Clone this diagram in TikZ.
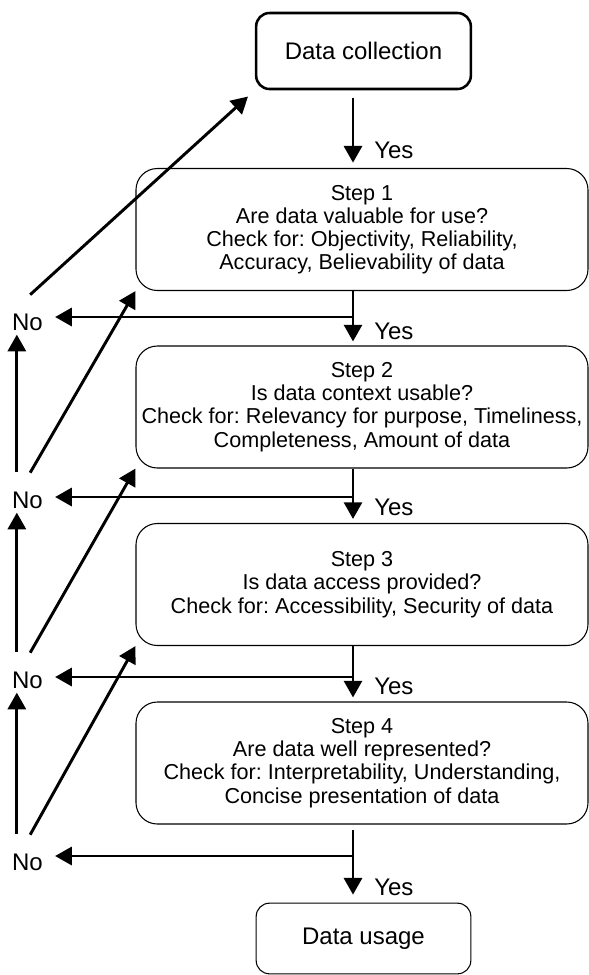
\documentclass[tikz,border=0pt]{standalone}
\usepackage{fontspec}
\setmainfont{Liberation Sans}
\usetikzlibrary{arrows.meta}
\frenchspacing

\begin{document}
\begin{tikzpicture}[x=0.75pt,y=-0.75pt,
	flow/.style={black,line width=2.2pt,-{Triangle[length=12.5pt,width=13.5pt]}},
	stepbox/.style={draw=black,line width=0.8pt,rounded corners=16pt,minimum width=339pt,minimum height=91.5pt,align=center,font=\fontsize{16.2}{17.4}\selectfont},
	endbox/.style={draw=black,rounded corners=10pt,minimum width=161pt,font=\fontsize{18}{21}\selectfont},
	answer/.style={inner sep=0pt,font=\fontsize{18}{21}\selectfont}]
	\useasboundingbox (0,0) rectangle (589,975);

	\node[endbox,line width=1.9pt,minimum height=57pt] (dc) at (363.5,51) {Data collection};
	\node[stepbox] (s1) at (362,229.5) {Step 1\\Are data valuable for use?\\Check for: Objectivity, Reliability,\\Accuracy, Believability of data};
	\node[stepbox] (s2) at (362,407) {Step 2\\Is data context usable?\\Check for: Relevancy for purpose, Timeliness,\\Completeness, Amount of data};
	\node[stepbox] (s3) at (362,584.5) {Step 3\\Is data access provided?\\Check for: Accessibility, Security of data};
	\node[stepbox] (s4) at (362,763) {Step 4\\Are data well represented?\\Check for: Interpretability, Understanding,\\Concise presentation of data};
	\node[endbox,line width=0.8pt,minimum height=53pt] (du) at (363.5,938.5) {Data usage};

	\node[answer] (no1) at (27.5,322) {No};
	\node[answer] (no2) at (27.5,500) {No};
	\node[answer] (no3) at (27.5,680) {No};
	\node[answer] (no4) at (27.5,862) {No};

	\node[answer,anchor=west] (yes0) at (374,150) {Yes};
	\node[answer,anchor=west] (yes1) at (374,331) {Yes};
	\node[answer,anchor=west] (yes2) at (374,507) {Yes};
	\node[answer,anchor=west] (yes3) at (374,686) {Yes};
	\node[answer,anchor=west] (yes4) at (374,887) {Yes};

	\coordinate (spine) at (353,0);
	\coordinate (j1) at (353,317);
	\coordinate (j2) at (353,497);
	\coordinate (j3) at (353,677);
	\coordinate (j4) at (353,856);

	\foreach \a/\b/\s/\e in {dc/s1/6pt/4pt,s1/s2/0pt/3pt,s2/s3/0pt/3pt,s3/s4/0pt/3pt,s4/du/4pt/6pt}
		\draw[flow,shorten <=\s,shorten >=\e] (\a.south -| spine) -- (\b.north -| spine);

	\foreach \n in {1,2,3,4}
		\draw[flow,shorten >=9pt] (j\n) -- (j\n -| no\n.east);

	\foreach \a/\b in {2/1,3/2,4/3}
		\draw[flow,shorten >=3pt] ([xshift=-8pt,yshift=14.5pt]no\a.north) -- ([xshift=-8pt]no\b.south);

	\foreach \a/\b/\s in {1/dc/7pt,2/s1/0pt,3/s2/0pt,4/s3/0pt}
		\draw[flow,shorten >=\s] ([xshift=2pt,yshift=14pt]no\a.north) -- (\b.south west);
\end{tikzpicture}
\end{document}
